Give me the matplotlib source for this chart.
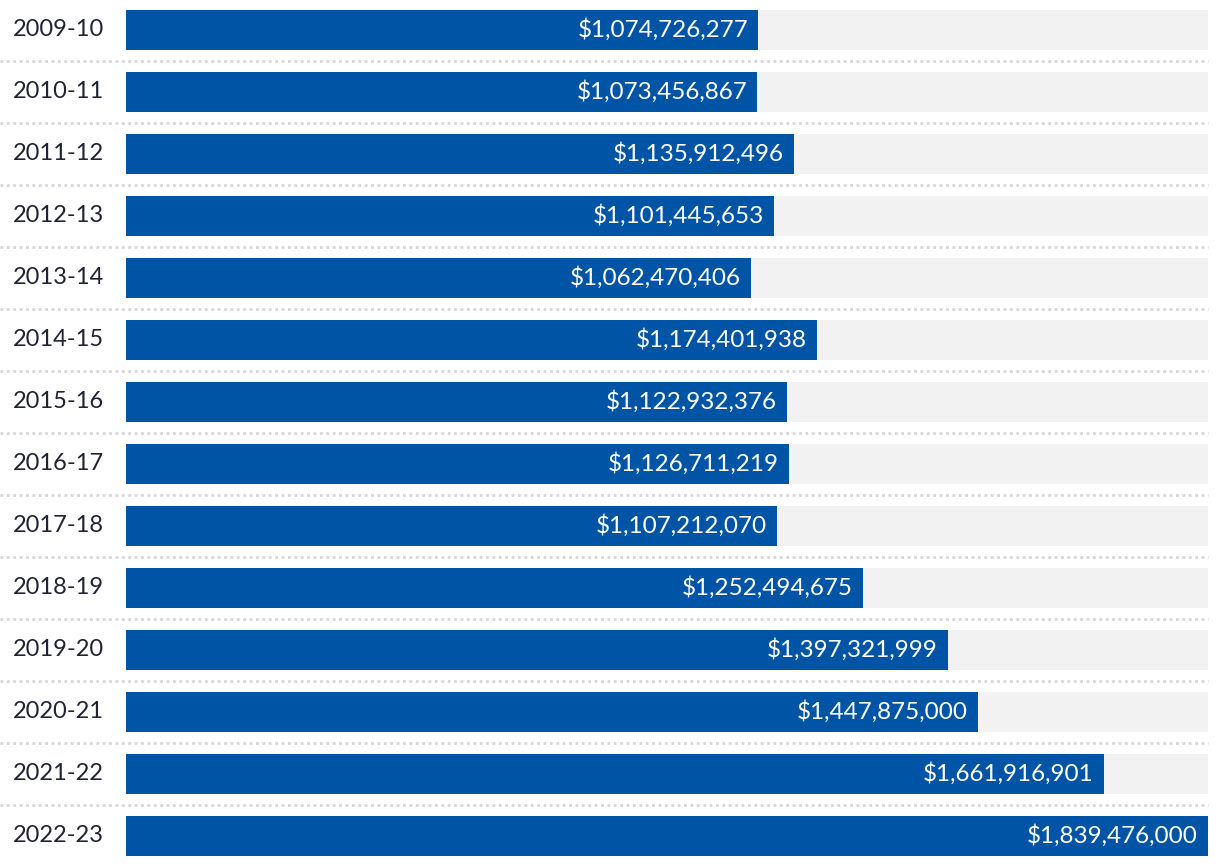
import numpy as np
import matplotlib.pyplot as plt
from matplotlib.transforms import blended_transform_factory

# fiscal years and totals
years = ['2009-10', '2010-11', '2011-12', '2012-13', '2013-14', '2014-15', '2015-16',
         '2016-17', '2017-18', '2018-19', '2019-20', '2020-21', '2021-22', '2022-23']
totals = [1074726277, 1073456867, 1135912496, 1101445653, 1062470406, 1174401938, 1122932376,
          1126711219, 1107212070, 1252494675, 1397321999, 1447875000, 1661916901, 1839476000]

W, H = 1220, 866
fig = plt.figure(figsize=(W/100, H/100), dpi=100)
left, right = 126, 1208
ax = fig.add_axes([left/W, 0, (right-left)/W, 1])

vmax = max(totals)
ypos = np.arange(len(years))
bh = 40/62

#grey track behind each bar, then the bar itself
ax.barh(ypos, [vmax]*len(years), height=bh, color='#f2f2f2', zorder=1)
ax.barh(ypos, totals, height=bh, color='#0054a6', zorder=2)

ax.set_xlim(0, vmax)
ax.set_ylim(13 + 30.5/62, -29.5/62)
ax.axis('off')

tr = blended_transform_factory(ax.transAxes, ax.transData)
pad = vmax * 10 / (right - left)
for y, v in zip(ypos, totals):
    ax.text(v - pad, y, '${:,}'.format(v), ha='right', va='center', color='white',
            fontsize=17.5, family='Lato', zorder=3)
    ax.text(-113/(right-left), y, years[y], ha='left', va='center', color='#1f2333',
            fontsize=17, family='Lato', transform=tr)

#dotted separators between rows
for i in range(len(years) - 1):
    ax.plot([-left/(right-left), 1], [i + 0.5, i + 0.5], transform=tr, color='#d6d6d6',
            lw=2, linestyle=(0, (1, 1.3)), clip_on=False, zorder=0)

fig.savefig('out.png', dpi=100)
